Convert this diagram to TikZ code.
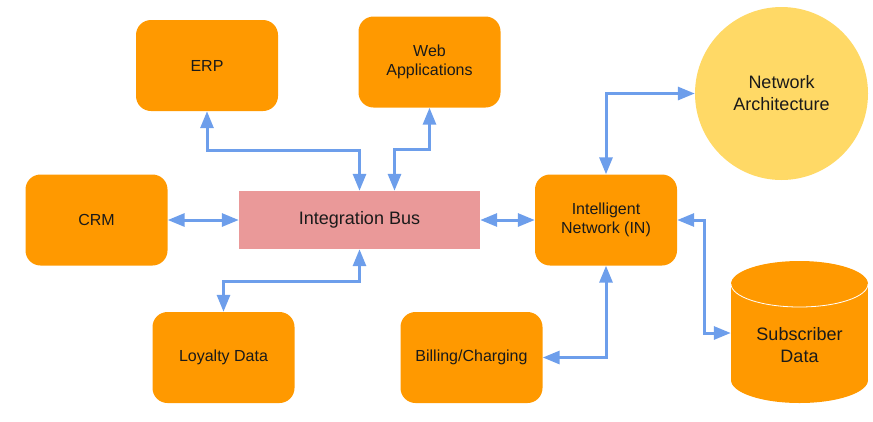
\documentclass[tikz,border=0pt]{standalone}
\usepackage{fontspec}
\setmainfont{Liberation Sans}
\usetikzlibrary{arrows.meta}
\definecolor{boxorange}{HTML}{FF9900}
\definecolor{buspink}{HTML}{EA9999}
\definecolor{archyellow}{HTML}{FFD966}
\definecolor{linkblue}{HTML}{6D9EEB}
\definecolor{textblack}{HTML}{1A1A1A}
\tikzset{box/.style={rectangle, rounded corners=15pt, fill=boxorange, text=textblack,
      minimum width=142pt, minimum height=91pt, align=center,
      font=\fontsize{16}{19}\selectfont}}
\tikzset{link/.style={draw=linkblue, line width=3pt, <->,
      >={Triangle[length=17pt,width=13pt]}}}

\begin{document}
\begin{tikzpicture}[x=1pt,y=-1pt]
		\useasboundingbox (0,0) rectangle (873,421);
		\node[box] (erp) at (207,65.5) {ERP};
		\node[box] (web) at (429.5,62) {Web\\Applications};
		\node[box] (crm) at (96.5,220) {CRM};
		\node[box] (in) at (606,220) {Intelligent\\Network (IN)};
		\node[box] (loyal) at (223.5,357.5) {Loyalty Data};
		\node[box] (bill) at (471.5,357.5) {Billing/Charging};
		\node[rectangle, fill=buspink, text=textblack, minimum width=241pt, minimum height=58pt,
			font=\fontsize{18}{22}\selectfont] (bus) at (359.5,220) {Integration Bus};
		\node[circle, fill=archyellow, text=textblack, minimum size=173pt, inner sep=0pt, align=center,
			font=\fontsize{18}{22}\selectfont] (arch) at (781.5,93.5) {Network\\Architecture};
		% subscriber cylinder
		\fill[boxorange] (731,284) rectangle (868,380);
		\fill[boxorange] (799.5,380) ellipse [x radius=68.5, y radius=23];
		\fill[boxorange] (799.5,284) ellipse [x radius=68.5, y radius=23];
		\draw[white, line width=0.8pt] (731,284) arc [start angle=180, end angle=0, x radius=68.5, y radius=23];
		\node[text=textblack, minimum width=137pt, align=center,
			font=\fontsize{18}{22}\selectfont] (sub) at (799.5,345) {Subscriber\\Data};
		% connectors
		\draw[link] (erp.south) -- ++(0,39) -| (bus.north);
		\draw[link] ([xshift=35pt]bus.north) -- ++(0,-41) -| (web.south);
		\draw[link] (crm.east) -- (bus.west);
		\draw[link] (bus.east) -- (in.west);
		\draw[link] (bus.south) -- ++(0,32) -| (loyal.north);
		\draw[link] (in.south) |- (bill.east);
		\draw[link] (in.north) |- (arch.west);
		\draw[link] (in.east) -- ++(27,0) |- ([yshift=12pt]sub.west);
		\end{tikzpicture}
\end{document}
